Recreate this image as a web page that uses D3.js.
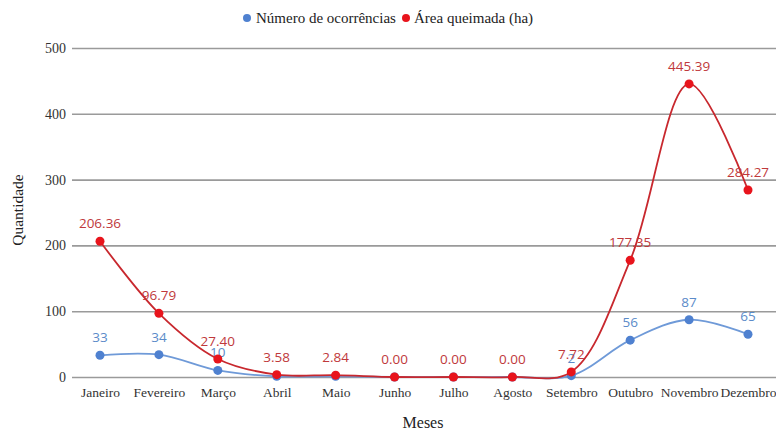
<!DOCTYPE html>
<html><head><meta charset="utf-8">
<script src="https://cdn.jsdelivr.net/npm/d3@7"></script>
<style>body{margin:0;background:#fff}svg{display:block}</style>
</head><body>
<svg id="c" width="776" height="434"></svg>
<script>
const months = ["Janeiro","Fevereiro","Março","Abril","Maio","Junho","Julho","Agosto","Setembro","Outubro","Novembro","Dezembro"];
const ocorrencias = [33,34,10,1,1,0,0,0,2,56,87,65];
const ocorrLabels = ["33","34","10",null,null,null,null,null,"2","56","87","65"];
const area = [206.36,96.79,27.40,3.58,2.84,0.00,0.00,0.00,7.72,177.35,445.39,284.27];
const yTicks = [0,100,200,300,400,500];

const svg = d3.select("#c");
const x = d3.scalePoint().domain(months).range([100,748]);
const y = d3.scaleLinear().domain([0,500]).range([377,48]);

const serif = "'Liberation Serif','Times New Roman',serif";
const sans = "'Open Sans','Liberation Sans',sans-serif";
const yAxis = d3.axisLeft(y).tickValues(yTicks).tickSize(-704).tickPadding(6);
const gy = svg.append("g").attr("transform","translate(72,0)").call(yAxis);
gy.select(".domain").remove();
gy.selectAll(".tick line").attr("stroke","#9a9a9a").attr("stroke-width",1.6);
gy.selectAll(".tick text").attr("font-family",serif).attr("font-size",14).attr("fill","#333");

const xAxis = d3.axisBottom(x).tickSize(0).tickPadding(10);
const gx = svg.append("g").attr("transform","translate(0,377)").call(xAxis);
gx.select(".domain").remove();
gx.selectAll(".tick text").attr("font-family",serif).attr("font-size",13.5).attr("fill","#333");

svg.append("text").attr("x",423).attr("y",428).attr("text-anchor","middle")
  .attr("font-family",serif).attr("font-size",16).attr("fill","#222").text("Meses");
svg.append("text").attr("transform","translate(23,210) rotate(-90)").attr("text-anchor","middle")
  .attr("font-family",serif).attr("font-size",15.5).attr("fill","#222").text("Quantidade");

const lg = svg.append("g").attr("font-family",serif).attr("font-size",15).attr("fill","#222");
lg.append("circle").attr("cx",247).attr("cy",18).attr("r",4).attr("fill","#4f81d0");
lg.append("text").attr("x",256).attr("y",23).text("Número de ocorrências");
lg.append("circle").attr("cx",406).attr("cy",18).attr("r",4).attr("fill","#e8141c");
lg.append("text").attr("x",414).attr("y",23).text("Área queimada (ha)");

const line = d3.line().x((d,i)=>x(months[i])).y(d=>y(d)).curve(d3.curveCatmullRom.alpha(0.5));

svg.append("path").datum(ocorrencias).attr("d",line).attr("fill","none").attr("stroke","#6f9ad8").attr("stroke-width",1.8);
svg.append("g").selectAll("circle").data(ocorrencias).join("circle")
  .attr("cx",(d,i)=>x(months[i])).attr("cy",d=>y(d)).attr("r",4.5).attr("fill","#4f81d0");
svg.append("g").selectAll("text").data(ocorrLabels.map((l,i)=>({l,i})).filter(d=>d.l!==null)).join("text")
  .attr("x",d=>x(months[d.i]))
  .attr("y",d=>y(ocorrencias[d.i])-13)
  .attr("text-anchor","middle").attr("font-family",sans).attr("font-size",13.5).attr("fill","#5b8bc9").text(d=>d.l);

svg.append("path").datum(area).attr("d",line).attr("fill","none").attr("stroke","#c8282e").attr("stroke-width",1.8);
svg.append("g").selectAll("circle").data(area).join("circle")
  .attr("cx",(d,i)=>x(months[i])).attr("cy",d=>y(d)).attr("r",4.5).attr("fill","#e8141c");
svg.append("g").selectAll("text").data(area).join("text")
  .attr("x",(d,i)=>x(months[i])).attr("y",d=>y(d)-13)
  .attr("text-anchor","middle").attr("font-family",sans).attr("font-size",13.5).attr("fill","#c0393b").text(d=>d.toFixed(2));
</script>
</body></html>
